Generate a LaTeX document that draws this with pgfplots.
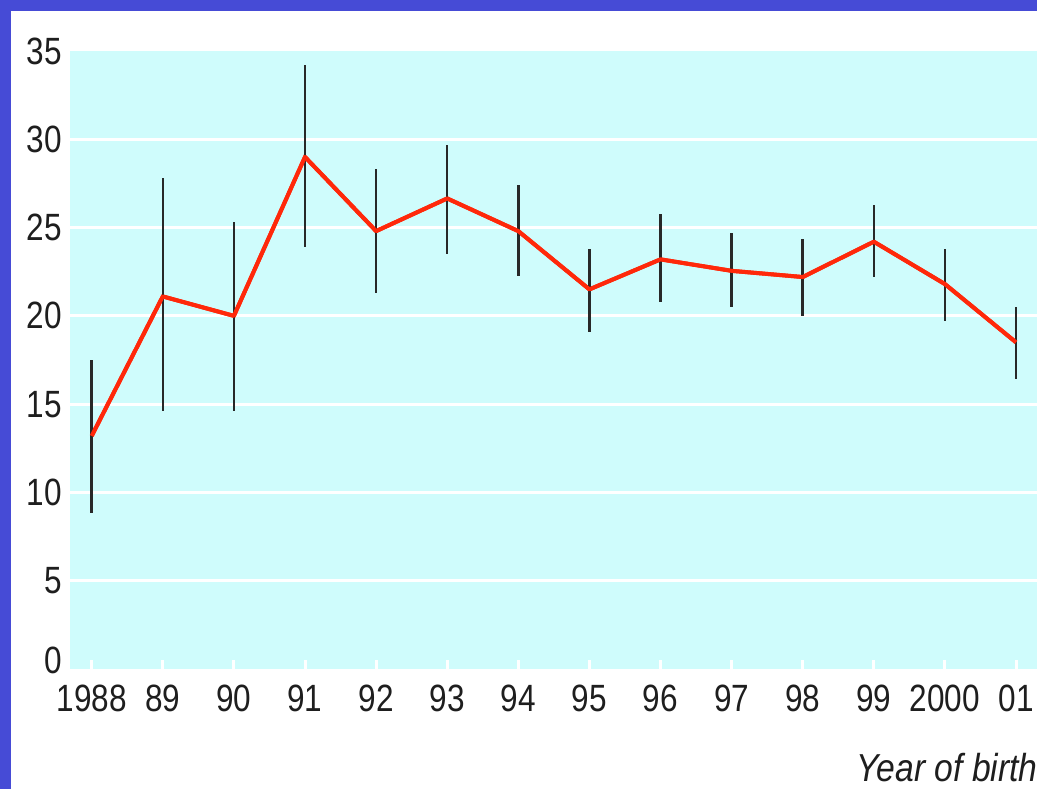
\documentclass[border=0pt]{standalone}
\usepackage{pgfplots}
\pgfplotsset{compat=1.18}
\usepackage{pgfplotstable}
\usepackage{fontspec}
\setmainfont{Liberation Sans}[FakeStretch=0.83]
\definecolor{frameblue}{RGB}{70,75,214}
\definecolor{bgcyan}{RGB}{207,252,252}
\definecolor{linered}{RGB}{255,40,10}
\definecolor{barcol}{RGB}{40,40,40}
\definecolor{txt}{RGB}{30,30,30}
\pgfplotstableread{
x y ep em
0 13.2 4.3 4.35
1 21.1 6.7 6.5
2 20.0 5.3 5.4
3 29.0 5.2 5.1
4 24.8 3.5 3.5
5 26.65 3.05 3.15
6 24.8 2.6 2.55
7 21.5 2.3 2.4
8 23.2 2.55 2.4
9 22.55 2.15 2.05
10 22.2 2.15 2.2
11 24.2 2.1 2.0
12 21.8 2.0 2.1
13 18.5 2.0 2.1
}\datatable
\begin{document}
\begin{tikzpicture}
\useasboundingbox (0,0) rectangle (518.5pt,394.5pt);
\clip (0,0) rectangle (518.5pt,394.5pt);
\fill[frameblue] (0,0) rectangle (518.5pt,394.5pt);
\fill[white] (5.5pt,0) rectangle (518.5pt,389pt);
\begin{axis}[
  at={(35pt,60pt)}, anchor=south west,
  scale only axis, width=483.5pt, height=309pt,
  xmin=-0.305, xmax=13.295, ymin=0, ymax=35,
  axis line style={draw=none},
  axis background/.style={fill=bgcyan},
  font=\fontsize{19}{22}\selectfont,
  tick label style={text=txt},
  /pgf/number format/assume math mode=true,
  xtick={0,...,13},
  xticklabels={1988,89,90,91,92,93,94,95,96,97,98,99,2000,01},
  xtick pos=bottom, tick align=inside,
  major tick length=4.5pt,
  xtick style={white, line width=1.5pt},
  xticklabel style={anchor=north, inner sep=0pt, yshift=-8pt},
  ytick={0,5,...,35},
  yticklabels={\raisebox{9pt}{0},5,10,15,20,25,30,35},
  ytick style={draw=none},
  yticklabel style={anchor=east, inner sep=0pt, xshift=-4pt},
  extra y ticks={5,10,...,30},
  extra y tick labels={},
  extra y tick style={ymajorgrids=true, tick style={draw=none}},
  grid style={white, line width=1.5pt},
  clip=false,
]
\addplot[linered, line width=2pt, mark=none,
  error bars/.cd, y dir=both, y explicit, error mark=none,
  error bar style={draw=barcol, line width=1.25pt}]
  table[x=x, y=y, y error plus=ep, y error minus=em] {\datatable};
\addplot[linered, line width=2pt, mark=none, line join=round] table[x=x, y=y] {\datatable};
\end{axis}
\node[anchor=base east, inner sep=0pt, text=txt, xscale=1.04, font=\fontsize{19.5}{22}\selectfont\itshape] at (519pt,3.6pt) {Year of birth};
\end{tikzpicture}
\end{document}
